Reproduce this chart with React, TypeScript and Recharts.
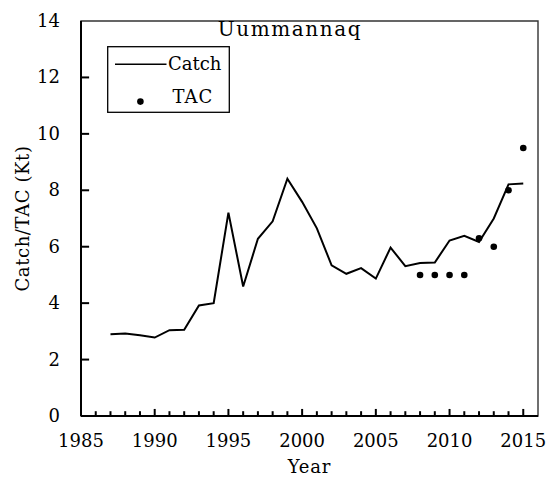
import React from "react";
import { ComposedChart, Line, XAxis, YAxis, ReferenceArea, ReferenceLine } from "recharts";

const years = [1987, 1988, 1989, 1990, 1991, 1992, 1993, 1994, 1995, 1996, 1997, 1998, 1999, 2000, 2001, 2002, 2003, 2004, 2005, 2006, 2007, 2008, 2009, 2010, 2011, 2012, 2013, 2014, 2015];
const catchValues = [2.9, 2.92, 2.86, 2.78, 3.04, 3.06, 3.92, 4.0, 7.21, 4.59, 6.28, 6.9, 8.41, 7.59, 6.65, 5.34, 5.04, 5.24, 4.87, 5.97, 5.31, 5.42, 5.44, 6.22, 6.39, 6.17, 7.0, 8.21, 8.24];
const tacYears = [2008, 2009, 2010, 2011, 2012, 2013, 2014, 2015];
const tacValues = [5, 5, 5, 5, 6.3, 6.0, 8.0, 9.5];
const xTicks = [1985, 1990, 1995, 2000, 2005, 2010, 2015];
const xMinorTicks = Array.from({ length: 30 }, (_, i) => 1986 + i);
const yTicks = [0, 2, 4, 6, 8, 10, 12, 14];
const seriesNames = ["Catch", "TAC"];
const title = "Uummannaq";

const data = years.map((y, i) => {
  const ti = tacYears.indexOf(y);
  return { year: y, catch: catchValues[i], tac: ti >= 0 ? tacValues[ti] : null };
});

const FONT = "DejaVu Serif";

const XTick = (props: any) => {
  const { x, y, payload } = props;
  return (
    <text x={x} y={y + 31} textAnchor="middle" fontFamily={FONT} fontSize={18} fill="#000">
      {payload.value}
    </text>
  );
};

const YTick = (props: any) => {
  const { x, y, payload } = props;
  return (
    <text x={x - 21} y={y + 6} textAnchor="end" fontFamily={FONT} fontSize={18} fill="#000">
      {payload.value}
    </text>
  );
};

const Overlay = () => (
  <svg width={548} height={120} style={{ position: "absolute", left: 0, top: 0, pointerEvents: "none" }}>
    <text x={290} y={35.5} textAnchor="middle" fontFamily={FONT} fontSize={20} letterSpacing={1.6} fill="#000">
      {title}
    </text>
    <g transform="translate(107,46)">
      <rect x={0.7} y={0.7} width={121.6} height={65.6} fill="#fff" stroke="#000" strokeWidth={1.3} />
      <line x1={8} x2={59.5} y1={18.3} y2={18.3} stroke="#000" strokeWidth={1.5} />
      <text x={61} y={24} fontFamily={FONT} fontSize={18} fill="#000">{seriesNames[0]}</text>
      <circle cx={33.4} cy={55.6} r={3.3} fill="#000" />
      <text x={65.4} y={56.6} fontFamily={FONT} fontSize={18} letterSpacing={1} fill="#000">{seriesNames[1]}</text>
    </g>
  </svg>
);

export default function App() {
  return (
    <div style={{ position: "absolute", left: 0, top: 0, width: 548, height: 478, background: "#fff" }}>
      <ComposedChart width={548} height={478} data={data} margin={{ top: 21, right: 10, bottom: 0, left: 0 }}>
        <ReferenceArea x1={1985} x2={2016} y1={0} y2={14} fill="none" stroke="#333" strokeWidth={1.4} ifOverflow="visible" />
        {xMinorTicks.map((yr) => (
          <ReferenceLine
            key={"xt" + yr}
            segment={[{ x: yr, y: 0 }, { x: yr, y: yr % 5 === 0 ? 0.25 : 0.17 }]}
            stroke="#000"
            strokeWidth={2}
            ifOverflow="visible"
          />
        ))}
        {yTicks.slice(1, -1).map((v) => (
          <ReferenceLine
            key={"yt" + v}
            segment={[{ x: 1985, y: v }, { x: 1985.55, y: v }]}
            stroke="#000"
            strokeWidth={2}
            ifOverflow="visible"
          />
        ))}
        <XAxis
          dataKey="year"
          type="number"
          domain={[1985, 2016]}
          ticks={xTicks}
          interval={0}
          tickSize={0}
          tickMargin={0}
          height={62}
          tick={<XTick />}
          axisLine={{ stroke: "#000", strokeWidth: 2 }}
          tickLine={false}
          label={{
            content: (p: any) => {
              const vb = p.viewBox;
              return (
                <text x={vb.x + vb.width / 2} y={vb.y + 57} textAnchor="middle" fontFamily={FONT} fontSize={18} letterSpacing={0.8} fill="#000">
                  Year
                </text>
              );
            },
          }}
        />
        <YAxis
          type="number"
          domain={[0, 14]}
          ticks={yTicks}
          interval={0}
          width={81}
          tickSize={0}
          tickMargin={0}
          tick={<YTick />}
          tickLine={false}
          axisLine={{ stroke: "#000", strokeWidth: 2 }}
          label={{
            content: (p: any) => {
              const vb = p.viewBox;
              const cx = vb.x + 22;
              const cy = vb.y + vb.height / 2;
              return (
                <text x={cx} y={cy} textAnchor="middle" dominantBaseline="central" transform={`rotate(-90 ${cx} ${cy})`} fontFamily={FONT} fontSize={18} letterSpacing={0.6} fill="#000">
                  Catch/TAC (Kt)
                </text>
              );
            },
          }}
        />
        <Line
          dataKey="catch"
          name={seriesNames[0]}
          type="linear"
          stroke="#000"
          strokeWidth={2}
          dot={false}
          activeDot={false}
          isAnimationActive={false}
        />
        <Line
          dataKey="tac"
          name={seriesNames[1]}
          type="linear"
          stroke="none"
          dot={{ r: 3.3, fill: "#000", stroke: "none" }}
          activeDot={false}
          isAnimationActive={false}
        />
      </ComposedChart>
      <Overlay />
    </div>
  );
}
